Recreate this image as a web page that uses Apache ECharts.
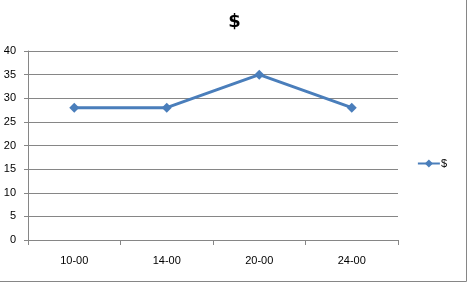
<!DOCTYPE html>
<html><head><meta charset="utf-8">
<script src="https://cdn.jsdelivr.net/npm/echarts@6/dist/echarts.min.js"></script>
<style>html,body{margin:0;padding:0;background:#fff}#c{width:469px;height:284px}</style>
</head><body><div id="c"></div>
<script>
const categories = ['10-00', '14-00', '20-00', '24-00'];
const values = [28, 28, 35, 28];
const seriesName = '$';
const yTicks = {min: 0, max: 40, interval: 5};

const chart = echarts.init(document.getElementById('c'));
chart.setOption({
  animation: false,
  backgroundColor: '#fff',
  title: {text: '$', left: 'center', top: 8, textStyle: {fontFamily: 'DejaVu Sans', fontSize: 18, fontWeight: 'bold', color: '#000'}},
  legend: {right: 17, top: 153, orient: 'vertical', itemWidth: 22, itemHeight: 10,
    textStyle: {fontFamily: 'Liberation Sans', fontSize: 11, color: '#000', padding: [0,0,0,-4]}, data: [seriesName]},
  grid: {left: 28, right: 71, top: 51, bottom: 44, containLabel: false, outerBoundsMode: 'none'},
  xAxis: {type: 'category', data: categories, boundaryGap: true,
    axisLine: {lineStyle: {color: '#868686'}},
    axisTick: {show: true, length: 5, lineStyle: {color: '#868686'}},
    axisLabel: {fontFamily: 'Liberation Sans', fontSize: 11, color: '#000', margin: 15}},
  yAxis: {type: 'value', min: yTicks.min, max: yTicks.max, interval: yTicks.interval,
    axisLine: {show: true, lineStyle: {color: '#868686'}},
    axisTick: {show: true, length: 4, lineStyle: {color: '#868686'}},
    axisLabel: {fontFamily: 'Liberation Sans', fontSize: 11, color: '#000', margin: 12},
    splitLine: {lineStyle: {color: '#868686'}}},
  series: [{name: seriesName, type: 'line', data: values, symbol: 'diamond', symbolSize: 10,
    lineStyle: {color: '#4A7EBB', width: 3}, itemStyle: {color: '#4A7EBB'}}],
  graphic: [
    {type: 'line', shape: {x1: 466.5, y1: 0, x2: 466.5, y2: 281.5}, style: {stroke: '#868686', lineWidth: 1}},
    {type: 'line', shape: {x1: 0, y1: 281.5, x2: 466.5, y2: 281.5}, style: {stroke: '#868686', lineWidth: 1}}
  ]
});
</script></body></html>
